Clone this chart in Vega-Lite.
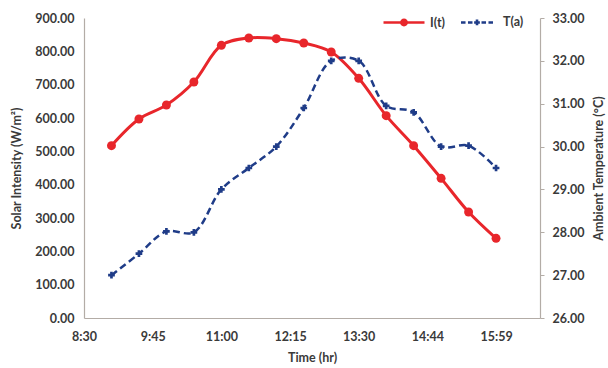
{
  "$schema": "https://vega.github.io/schema/vega-lite/v6.json",
  "width": 456,
  "height": 300,
  "autosize": {"type": "none"},
  "padding": {"left": 84, "top": 18, "right": 68, "bottom": 50},
  "background": "white",
  "config": {
    "font": "Lato",
    "view": {"stroke": null},
    "axis": {
      "labelFont": "Lato",
      "labelFontSize": 12.5,
      "labelColor": "#3a3a3a",
      "labelFontWeight": "bold",
      "titleFont": "Lato",
      "titleFontSize": 12.5,
      "titleColor": "#3a3a3a",
      "titleFontWeight": "bold",
      "domainColor": "#B3ACA6",
      "domainWidth": 1.2,
      "grid": false
    },
    "legend": {
      "labelFont": "Lato",
      "labelFontSize": 12.5,
      "labelColor": "#3a3a3a",
      "labelFontWeight": "bold"
    }
  },
  "data": {
    "values": [
      {"time": "2020-01-01T09:00", "series": "I(t)", "value": 517},
      {"time": "2020-01-01T09:30", "series": "I(t)", "value": 597},
      {"time": "2020-01-01T10:00", "series": "I(t)", "value": 639},
      {"time": "2020-01-01T10:30", "series": "I(t)", "value": 708},
      {"time": "2020-01-01T11:00", "series": "I(t)", "value": 818},
      {"time": "2020-01-01T11:30", "series": "I(t)", "value": 840},
      {"time": "2020-01-01T12:00", "series": "I(t)", "value": 838},
      {"time": "2020-01-01T12:30", "series": "I(t)", "value": 825},
      {"time": "2020-01-01T13:00", "series": "I(t)", "value": 798},
      {"time": "2020-01-01T13:30", "series": "I(t)", "value": 719},
      {"time": "2020-01-01T14:00", "series": "I(t)", "value": 607},
      {"time": "2020-01-01T14:30", "series": "I(t)", "value": 517},
      {"time": "2020-01-01T15:00", "series": "I(t)", "value": 419},
      {"time": "2020-01-01T15:30", "series": "I(t)", "value": 318},
      {"time": "2020-01-01T16:00", "series": "I(t)", "value": 239},
      {"time": "2020-01-01T09:00", "series": "T(a)", "value": 27.0},
      {"time": "2020-01-01T09:30", "series": "T(a)", "value": 27.5},
      {"time": "2020-01-01T10:00", "series": "T(a)", "value": 28.02},
      {"time": "2020-01-01T10:30", "series": "T(a)", "value": 28.0},
      {"time": "2020-01-01T11:00", "series": "T(a)", "value": 29.0},
      {"time": "2020-01-01T11:30", "series": "T(a)", "value": 29.5},
      {"time": "2020-01-01T12:00", "series": "T(a)", "value": 30.0},
      {"time": "2020-01-01T12:30", "series": "T(a)", "value": 30.9},
      {"time": "2020-01-01T13:00", "series": "T(a)", "value": 32.0},
      {"time": "2020-01-01T13:30", "series": "T(a)", "value": 32.0},
      {"time": "2020-01-01T14:00", "series": "T(a)", "value": 30.95},
      {"time": "2020-01-01T14:30", "series": "T(a)", "value": 30.8},
      {"time": "2020-01-01T15:00", "series": "T(a)", "value": 30.0},
      {"time": "2020-01-01T15:30", "series": "T(a)", "value": 30.02},
      {"time": "2020-01-01T16:00", "series": "T(a)", "value": 29.5}
    ]
  },
  "encoding": {
    "x": {
      "field": "time",
      "type": "temporal",
      "scale": {
        "domain": [
          {"year": 2020, "month": 1, "date": 1, "hours": 8, "minutes": 30},
          {"year": 2020, "month": 1, "date": 1, "hours": 16, "minutes": 48}
        ]
      },
      "axis": {
        "title": "Time (hr)",
        "format": "%-H:%M",
        "values": [
          {"year": 2020, "month": 1, "date": 1, "hours": 8, "minutes": 30},
          {"year": 2020, "month": 1, "date": 1, "hours": 9, "minutes": 45},
          {"year": 2020, "month": 1, "date": 1, "hours": 11, "minutes": 0},
          {"year": 2020, "month": 1, "date": 1, "hours": 12, "minutes": 15},
          {"year": 2020, "month": 1, "date": 1, "hours": 13, "minutes": 30},
          {"year": 2020, "month": 1, "date": 1, "hours": 14, "minutes": 44, "seconds": 59},
          {"year": 2020, "month": 1, "date": 1, "hours": 15, "minutes": 59, "seconds": 59}
        ],
        "ticks": false,
        "labelPadding": 12,
        "titlePadding": 9,
        "labelFlush": false
      }
    },
    "color": {
      "field": "series",
      "type": "nominal",
      "scale": {"domain": ["I(t)", "T(a)"], "range": ["#E8262B", "#1F3C88"]},
      "legend": {
        "title": null,
        "orient": "none",
        "direction": "horizontal",
        "legendX": 298,
        "legendY": -18,
        "symbolSize": 1681,
        "columnPadding": 10,
        "labelOffset": 4,
        "encode": {
          "symbols": {
            "update": {
              "shape": {"signal": "datum.value === 'I(t)' ? 'M-1,0L1,0M0.13,0A0.13,0.13 0 1,1 -0.13,0A0.13,0.13 0 1,1 0.13,0Z' : 'M-0.78,0L-0.56,0M-0.44,0L-0.22,0M0.22,0L0.44,0M0.56,0L0.78,0M-0.14,0L0.14,0M0,-0.14L0,0.14'"},
              "stroke": {"scale": "color", "field": "value"},
              "fill": {"scale": "color", "field": "value"},
              "strokeWidth": {"value": 2.6},
              "opacity": {"value": 1}
            }
          }
        }
      }
    }
  },
  "layer": [
    {
      "transform": [{"filter": "datum.series === 'I(t)'"}],
      "encoding": {
        "y": {
          "field": "value",
          "type": "quantitative",
          "scale": {"domain": [0, 900]},
          "axis": {
            "title": "Solar Intensity (W/m²)",
            "format": ".2f",
            "values": [0, 100, 200, 300, 400, 500, 600, 700, 800, 900],
            "ticks": false,
            "labelPadding": 10,
            "titlePadding": 11,
            "orient": "left"
          }
        }
      },
      "layer": [
        {
          "mark": {"type": "line", "interpolate": "catmull-rom", "strokeWidth": 3}
        },
        {
          "mark": {"type": "point", "shape": "circle", "filled": true, "size": 80, "opacity": 1}
        }
      ]
    },
    {
      "transform": [{"filter": "datum.series === 'T(a)'"}],
      "encoding": {
        "y": {
          "field": "value",
          "type": "quantitative",
          "scale": {"domain": [26, 33]},
          "axis": {
            "title": "Ambient Temperature (°C)",
            "titleAngle": 270,
            "titleBaseline": "top",
            "format": ".2f",
            "values": [26, 27, 28, 29, 30, 31, 32, 33],
            "ticks": true,
            "tickSize": 4,
            "tickColor": "#B3ACA6",
            "labelPadding": 8,
            "titlePadding": 9,
            "orient": "right"
          }
        }
      },
      "layer": [
        {
          "mark": {"type": "line", "interpolate": "catmull-rom", "strokeWidth": 2.5, "strokeDash": [7, 4]}
        },
        {
          "mark": {"type": "point", "shape": "cross", "filled": true, "size": 45, "opacity": 1, "color": "#2B2F8C"}
        }
      ]
    }
  ],
  "resolve": {"scale": {"y": "independent"}}
}
